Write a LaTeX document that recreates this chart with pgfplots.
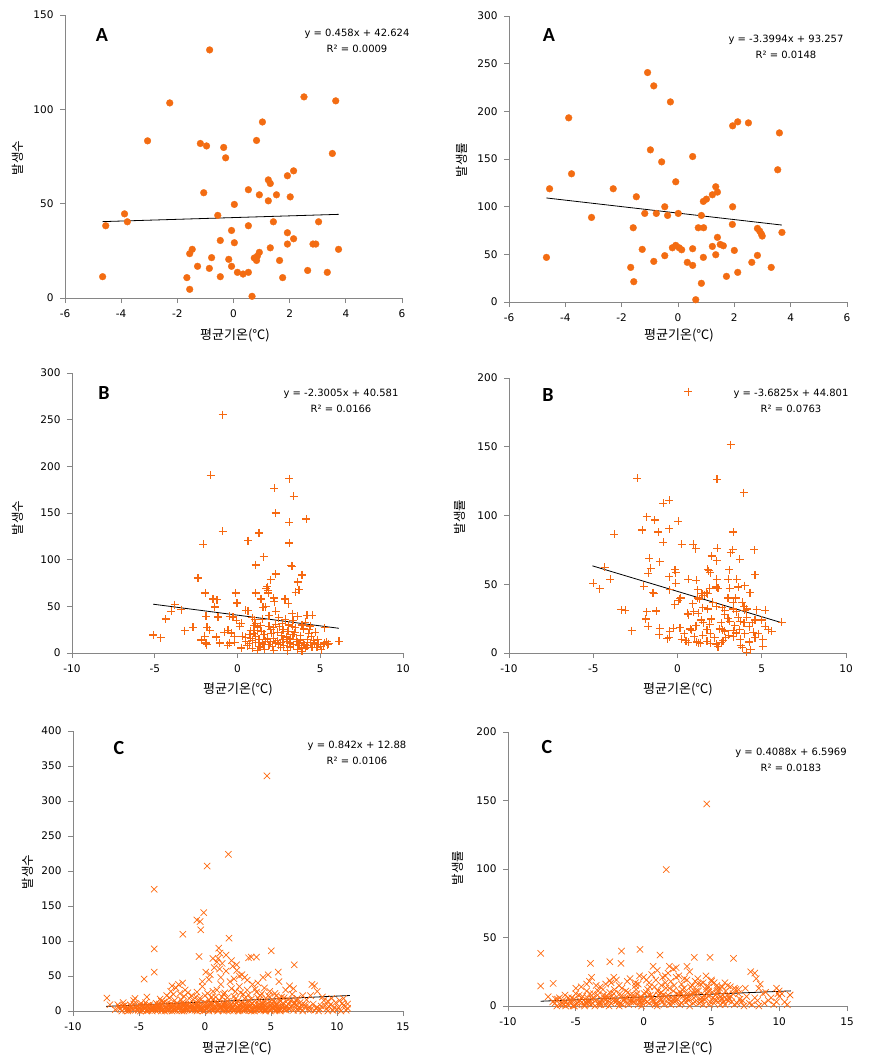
\documentclass[border=0pt]{standalone}
\usepackage{pgfplots}
\pgfplotsset{compat=1.18}
\usepackage{fontspec}
\setmainfont{DejaVu Sans}
\newfontfamily\kr{Noto Sans CJK KR}
\newfontfamily\carl{Carlito}
\definecolor{axisgray}{RGB}{134,134,134}
\definecolor{dotorange}{RGB}{243,108,18}
\definecolor{plusorange}{RGB}{246,104,16}
\definecolor{crossorange}{RGB}{255,106,16}
\pgfplotsset{
  panel/.style={
    scale only axis,
    anchor=south west,
    axis lines*=left,
    axis line style={draw=axisgray, line width=0.8pt},
    every tick/.style={draw=axisgray, line width=0.8pt},
    tick align=outside,
    major tick length=5pt,
    tick label style={font=\fontsize{10.5}{12}\selectfont, text=black},
    xticklabel style={yshift=-3pt},
    yticklabel style={xshift=-3pt},
    /pgf/number format/assume math mode=true,
    clip=false,
  },
  circ/.style={only marks, color=dotorange, mark=*, mark size=3.4pt, mark options={draw=dotorange, fill=dotorange, line width=0.3pt}},
  pluss/.style={only marks, color=plusorange, mark=+, mark size=4pt, mark options={draw=plusorange, line width=1.15pt}},
  cross/.style={only marks, color=crossorange, mark=x, mark size=4.5pt, mark options={draw=crossorange, line width=0.7pt}},
  trend/.style={no marks, black, line width=0.8pt},
}
\begin{document}
\begin{tikzpicture}
\useasboundingbox (0,0) rectangle (879pt,-1063pt);
% ---------------- Panel 1
\begin{axis}[panel, at={(65pt,-298pt)}, width=337pt, height=283pt,
  xmin=-6, xmax=6, ymin=0, ymax=150, xtick={-6,-4,...,6}, ytick={0,50,100,150}]
\addplot[circ] coordinates {(-0.85,131.5)(-2.27,103.4)(2.51,106.6)(3.64,104.5)(1.03,93.3)(-3.06,83.3)(0.82,83.5)(-1.18,81.9)(-0.96,80.6)(-0.35,79.8)(-0.28,74.3)(3.52,76.6)(2.14,67.4)(1.92,64.8)(1.24,62.6)(1.31,60.7)(-1.06,55.8)(0.53,57.4)(0.92,54.7)(1.53,54.7)(2.02,53.6)(1.24,51.5)(0.03,49.6)(-3.88,44.6)(-0.56,43.8)(-3.78,40.4)(1.42,40.4)(3.03,40.4)(-4.55,38.3)(0.53,38.3)(-0.07,35.8)(1.92,34.6)(-0.47,30.5)(0.03,29.3)(2.14,31.4)(1.92,28.6)(2.83,28.6)(2.93,28.6)(1.31,26.6)(3.74,25.8)(-1.47,25.8)(-1.56,23.5)(0.92,24.2)(0.85,22.2)(-0.78,21.4)(-0.17,20.5)(0.74,21.2)(0.82,19.9)(1.64,19.9)(-1.28,16.8)(-0.07,16.8)(-0.86,15.7)(0.14,13.6)(0.34,12.7)(0.53,13.6)(2.64,14.6)(3.34,13.6)(-4.66,11.3)(-1.66,10.8)(-0.47,11.3)(1.75,10.8)(-1.56,4.6)(0.66,0.9)};
\addplot[trend] coordinates {(-4.66,40.49)(3.74,44.34)};
\end{axis}
% ---------------- Panel 2
\begin{axis}[panel, at={(509pt,-302pt)}, width=338pt, height=286pt,
  xmin=-6, xmax=6, ymin=0, ymax=300, xtick={-6,-4,...,6}, ytick={0,50,...,300}]
\addplot[circ] coordinates {(-1.08,240.7)(-0.86,226.7)(-0.27,209.9)(-3.88,193.2)(2.12,189.0)(2.50,187.9)(1.94,184.8)(3.60,177.4)(-0.98,159.6)(0.52,152.6)(-0.58,147.0)(3.54,138.7)(-3.78,134.5)(-0.08,126.1)(-4.56,118.8)(-2.30,118.8)(1.34,120.9)(1.40,115.3)(1.22,112.5)(1.01,107.9)(0.90,105.5)(-1.48,110.4)(-0.47,99.9)(1.94,99.9)(-1.18,92.9)(-0.77,92.9)(0.01,92.9)(-0.37,90.8)(0.83,90.8)(-3.07,88.7)(-1.59,77.9)(0.72,77.9)(0.91,77.9)(1.93,81.4)(2.82,77.2)(2.90,74.4)(2.96,71.3)(2.99,69.2)(3.69,73.0)(1.40,67.8)(1.22,58.3)(1.50,60.4)(1.61,59.0)(-0.08,59.4)(-0.20,56.9)(0.04,56.9)(0.13,54.8)(-1.27,55.2)(0.52,55.9)(2.00,54.1)(-4.67,46.8)(-0.47,48.6)(0.90,46.8)(1.34,49.6)(2.82,48.9)(-0.86,42.6)(0.33,41.6)(0.52,38.4)(2.62,41.6)(-1.68,36.3)(3.31,36.3)(2.12,31.1)(1.72,26.9)(-1.57,21.3)(0.83,19.6)(0.63,2.4)};
\addplot[trend] coordinates {(-4.67,109.13)(3.69,80.71)};
\end{axis}
% ---------------- Panel 3
\begin{axis}[panel, at={(72pt,-653pt)}, width=331pt, height=280pt,
  xmin=-10, xmax=10, ymin=0, ymax=300, xtick={-10,-5,...,10}, ytick={0,50,...,300}]
\addplot[pluss] coordinates {(-0.90,255.4)(-1.62,190.4)(3.13,186.8)(2.23,176.4)(3.39,167.9)(2.31,150)(4.16,143.6)(3.13,140)(-0.90,130.4)(1.30,128.6)(0.63,120.4)(3.13,117.9)(-2.08,116.4)(1.58,103.2)(3.25,93.6)(3.30,92.8)(1.10,94.3)(3.90,83.6)(2.31,84.6)(-2.39,80.4)(2.00,78.6)(3.64,76.1)(3.72,67.9)(3.51,65)(1.75,69.5)(1.85,67)(1.80,71)(1.86,64.3)(-1.94,64.3)(-0.11,64.3)(1.10,64.3)(2.20,59)(2.22,55)(2.87,57.9)(3.07,52.9)(-1.48,57.9)(-1.24,57)(-0.03,53.6)(1.42,57.9)(-3.80,51.8)(-1.38,49.3)(-4.00,44.6)(-3.40,46.4)(1.54,49)(1.70,49.5)(0.49,45.7)(0.63,45.4)(2.31,44.6)(-1.90,39.3)(-1.18,38.6)(-0.47,39.3)(-0.27,38.6)(4.20,40.4)(4.52,40.4)(3.64,39.3)(-4.34,36.4)(-0.07,35)(1.04,35.7)(3.35,35)(0.23,32)(0.13,28.6)(-2.69,27.5)(-3.19,23.9)(-1.84,27.5)(-1.68,24.3)(-0.57,24.3)(-0.37,21.4)(1.00,29.3)(1.20,27.9)(1.40,29.3)(1.90,28.6)(2.15,27.2)(2.55,28)(2.75,25)(3.30,28.6)(3.05,23.2)(4.00,25.7)(4.35,25)(5.27,27)(-5.10,19.3)(-4.64,16.4)(-1.98,17.9)(-1.28,17.1)(-1.90,10.7)(-1.85,9)(-1.08,10.7)(-0.47,10.7)(-0.17,11.4)(0.23,5.4)(0.50,12)(0.70,10)(0.90,13.6)(1.10,11)(1.30,14.5)(1.50,10.7)(0.50,17)(0.80,16)(1.10,18)(1.70,12.5)(1.90,8.9)(2.10,7)(2.30,10.7)(2.50,8.9)(2.75,14.3)(2.95,17.1)(3.15,10.7)(3.35,19.6)(3.55,14.3)(3.75,10.7)(3.85,5.4)(4.05,8.9)(4.25,14.3)(4.45,17.9)(4.65,10.7)(4.85,14.3)(5.05,3.6)(5.25,10.7)(5.45,8.9)(6.13,12.5)(3.60,3.6)(3.90,1.8)(4.10,5.4)(1.30,7)(1.00,21)(1.45,23.2)(0.80,24)(2.05,21)(2.40,22)(2.65,19)(3.45,21.8)(3.80,18.5)(4.30,20.5)(4.70,22)(-0.80,22)(-0.20,17.5)(0.30,18)(0.60,8)(-0.60,8.5)(1.65,4)(2.20,3)(2.60,6)(3.00,2.5)(3.20,6.5)(3.70,8)(4.50,6)(4.90,9.5)(5.40,12)(-2.20,13.9)(0.9,5)(1.2,3)(1.4,6)(1.6,9)(1.8,15)(2.0,12)(2.2,16)(2.4,13)(2.6,11)(2.8,8)(3.0,12)(3.2,15)(3.4,9)(3.6,12)(3.8,14)(4.0,11)(4.2,8)(4.4,11)(4.6,13)(4.8,6)(5.0,7)(5.2,9)(5.5,10)(0.7,20)(1.2,24)(1.6,20)(2.0,25)(2.3,31)(2.7,32)(3.1,30)(3.5,27)(3.9,30)(4.1,33)(4.4,29)(1.1,32)(0.9,38)(1.5,36)(1.9,40)(2.5,38)(2.9,36)(3.3,42)};
\addplot[trend] coordinates {(-5.10,52.31)(6.13,26.48)};
\end{axis}
% ---------------- Panel 4
\begin{axis}[panel, at={(509pt,-653pt)}, width=337pt, height=275pt,
  xmin=-10, xmax=10, ymin=0, ymax=200, xtick={-10,-5,...,10}, ytick={0,50,...,200}]
\addplot[pluss] coordinates {(0.63,190.1)(3.15,151.4)(-2.38,127)(2.34,126.2)(3.94,116.6)(-0.50,111)(-0.85,108.8)(-1.84,99.2)(-1.35,96.7)(0.04,95.8)(-2.10,89.5)(-1.15,88)(-0.50,90.4)(3.31,88)(-3.76,86.3)(-0.85,80.5)(0.24,79.1)(0.93,79.1)(1.09,75.7)(2.36,76.2)(3.15,73)(3.27,75)(4.55,75)(3.70,68.2)(2.02,70.6)(2.32,67)(-1.68,69)(-1.05,66.3)(-1.60,61.7)(-4.32,62.4)(-0.15,60.5)(-0.10,58.5)(1.80,61)(1.95,58.5)(1.85,60)(3.07,60.5)(4.60,56.8)(-1.74,58)(-3.98,53.7)(0.63,53.5)(1.12,53)(2.32,53.5)(3.01,53.7)(3.51,53.5)(-0.50,55.6)(-0.10,50.8)(-5.00,50.8)(-4.61,46.7)(-2.00,48.4)(-1.45,44)(-1.40,43.5)(-0.46,46)(1.20,46)(1.45,43)(1.70,44)(1.90,47)(2.30,48)(2.40,47)(3.10,47)(3.60,48)(4.00,49)(4.30,44)(0.20,40)(0.05,38)(0.15,39.5)(1.20,40)(1.30,39)(1.60,42)(1.80,43)(3.00,40)(3.30,37)(3.45,40)(3.85,37)(3.95,34)(2.30,34)(2.65,33)(2.80,31)(-0.16,35)(-3.33,31.4)(-3.10,31)(-1.84,30)(-1.25,30.5)(0.63,28)(0.60,29)(0.97,30)(1.23,29)(1.50,33)(1.80,32)(3.31,32)(3.50,30)(4.10,32)(5.20,31)(4.70,31.5)(-1.88,24.7)(-1.74,19.3)(1.42,24)(1.52,22)(2.00,24.7)(3.00,25)(3.10,23)(3.72,23)(3.95,22)(4.45,22)(4.25,19)(5.20,19.3)(-1.05,18)(-0.45,15.7)(-0.25,18)(0.15,18.5)(0.75,17.5)(0.85,16.5)(1.75,17)(1.95,14)(2.50,17.5)(2.65,17)(2.80,16)(3.31,16.2)(3.50,14.5)(3.70,17)(4.50,15)(4.80,14)(5.40,17)(5.60,15.7)(-2.73,16.2)(-1.09,13.3)(-0.50,11.5)(-0.60,10.5)(0.25,10)(0.50,9)(1.15,8)(1.35,7)(1.25,7.5)(1.75,8.5)(1.95,7)(2.30,6.5)(2.40,4.5)(2.60,7.5)(2.85,11)(3.05,13)(3.72,10)(3.85,4)(3.75,5.5)(4.25,8)(4.35,2.5)(5.05,5)(5.05,10)(4.10,0.5)(0.63,7.7)(6.18,22.2)(1.0,12)(1.5,13)(2.2,11)(2.7,9)(3.3,12)(4.0,14)(4.6,11)(0.4,14)(1.1,20)(1.9,21)(2.6,22)(3.4,20)(4.1,26)(4.6,24)(0.9,36)(2.1,37)(2.8,28)(3.6,26)(4.0,31)(5.0,24)};
\addplot[trend] coordinates {(-5.05,63.40)(6.22,21.90)};
\end{axis}
% ---------------- Panel 5
\begin{axis}[panel, at={(73pt,-1011pt)}, width=330pt, height=280pt,
  xmin=-10, xmax=15, ymin=0, ymax=400, xtick={-10,-5,...,15}, ytick={0,50,...,400}]
\addplot[cross] coordinates {(4.69,335.9)(1.77,223.8)(0.16,207.1)(-3.85,173.9)(-0.10,140.6)(-0.62,130)(-0.37,127.8)(-0.32,116)(-1.68,109.7)(1.82,104)(-3.85,88.8)(5.02,86)(1.04,89.8)(1.14,82.7)(3.5,77)(3.3,76)(3.9,77)(-0.45,77.9)(6.76,66)(0.6,75)(0.9,70)(2.0,72)(2.4,66)(1.1,60)(1.6,57)(-3.85,55.6)(0.06,55.6)(5.55,55.6)(-4.61,45.6)(4.79,51.8)(2.6,50)(2.2,46)(3.0,48)(-0.2,42)(0.3,45)(-2.0,38)(-2.5,36)(-1.7,40)(8.1,38)(8.3,36)(6.4,36)(6.7,32)(-7.43,18.5)(-7.2,9)(-5.4,15)(-6.2,12)
(-6.8,2)(-6.5,5)(-6.3,0)(-6.1,8)(-5.9,3)(-5.7,1)(-5.6,6)(-5.4,10)(-5.2,2)(-5.0,4)(-4.9,0)(-4.8,7)(-4.6,3)(-4.5,12)(-4.4,1)(-4.3,5)(-4.2,9)(-4.1,2)(-4.0,0)(-3.9,6)(-3.8,3)(-3.7,11)(-3.6,1)(-3.5,4)(-3.4,8)(-3.3,0)(-3.2,2)(-3.1,13)(-3.0,5)(-2.9,1)(-2.8,7)(-2.7,3)(-2.6,10)(-2.5,0)(-2.4,4)(-2.3,15)(-2.2,2)(-2.1,6)(-2.0,9)(-1.9,1)(-1.8,3)(-1.7,12)(-1.6,0)(-1.5,5)(-1.4,8)(-1.3,2)(-1.2,18)(-1.1,4)(-1.0,1)(-0.9,7)(-0.8,10)(-0.7,3)(-0.6,0)(-0.5,14)(-0.4,6)(-0.3,2)(-0.2,9)(-0.1,4)(0.0,1)(0.1,11)(0.2,5)(0.3,0)(0.4,8)(0.5,3)(0.6,16)(0.7,2)(0.8,6)(0.9,12)(1.0,1)(1.1,9)(1.2,4)(1.3,20)(1.4,0)(1.5,7)(1.6,3)(1.7,14)(1.8,5)(1.9,1)(2.0,10)(2.1,6)(2.2,2)(2.3,17)(2.4,4)(2.5,0)(2.6,8)(2.7,3)(2.8,12)(2.9,5)(3.0,1)(3.1,9)(3.2,2)(3.3,15)(3.4,6)(3.5,0)(3.6,11)(3.7,4)(3.8,7)(3.9,2)(4.0,19)(4.1,5)(4.2,1)(4.3,10)(4.4,3)(4.5,13)(4.6,0)(4.7,6)(4.8,22)(4.9,2)(5.0,8)(5.1,4)(5.2,14)(5.3,1)(5.4,9)(5.5,3)(5.6,18)(5.7,0)(5.8,6)(5.9,11)(6.0,2)(6.2,7)(6.4,4)(6.5,15)(6.7,1)(6.9,9)(7.0,3)(7.2,12)(7.4,0)(7.6,6)(8.0,2)(8.2,10)(8.4,4)(8.6,0)(8.8,7)(9.0,15)(9.2,3)(9.5,9)(9.7,1)(9.9,12)(10.1,5)(10.3,0)(10.5,8)(10.8,4)
(-6.6,9)(-6.0,1)(-5.5,3)(-5.1,7)(-4.7,1)(-4.25,4)(-3.95,2)(-3.55,7)(-3.15,3)(-2.75,1)(-2.35,8)(-1.95,5)(-1.55,2)(-1.15,6)(-0.75,1)(-0.35,3)(0.05,7)(0.45,2)(0.85,4)(1.25,8)(1.65,1)(2.05,3)(2.45,6)(2.85,1)(3.25,4)(3.65,2)(4.05,8)(4.45,1)(4.85,5)(5.25,3)(5.65,1)(6.1,5)(6.6,8)(7.1,5)(7.8,2)(8.5,5)(9.4,6)(10.0,2)
(-5.8,4)(-4.95,9)(-4.05,5)(-3.45,10)(-2.65,6)(-2.15,11)(-1.65,7)(-1.25,10)(-0.85,5)(-0.45,8)(-0.05,12)(0.35,9)(0.75,13)(1.15,6)(1.55,11)(1.95,8)(2.35,12)(2.75,9)(3.15,6)(3.55,10)(3.95,13)(4.35,7)(4.75,11)(5.15,9)(5.55,6)(6.3,10)(6.8,12)(7.3,8)
(-5.3,18)(-4.4,20)(-3.4,17)(-2.9,22)(-2.6,28)(-2.2,33)(-1.9,25)(-1.5,30)(-1.0,22)(-0.6,27)(-0.2,35)(0.2,25)(0.5,20)(0.9,30)(1.2,38)(1.5,26)(1.9,42)(2.3,28)(2.6,35)(2.9,24)(3.2,30)(3.6,38)(3.9,27)(4.2,22)(4.5,33)(4.9,28)(5.3,25)(5.8,20)(6.1,30)(6.6,24)(7.0,18)(7.4,22)(8.5,28)(8.9,20)(9.6,18)(10.2,15)(10.8,10)
(0.7,62)(1.0,75)(1.3,68)(1.6,80)(2.1,64)(2.4,58)(2.8,52)(1.2,48)(0.4,52)(3.2,44)(4.0,40)(4.4,48)(5.6,42)
(-6.45,3)(-6.25,7)(-6.05,4)(-5.85,0)(-5.65,9)(-5.45,2)(-5.25,5)(-5.05,1)(-4.85,11)(-4.65,6)(-4.45,0)(-4.35,8)(-4.15,3)(-3.85,7)(-3.75,1)(-3.65,5)(-3.35,3)(-3.25,9)(-3.05,0)(-2.95,6)(-2.85,11)(-2.55,4)(-2.45,9)(-2.25,1)(-2.05,3)(-1.85,7)(-1.75,0)(-1.45,10)(-1.35,4)(-1.05,9)(-0.95,2)(-0.65,6)(-0.55,11)(-0.25,5)(-0.15,0)(0.15,3)(0.25,8)(0.55,10)(0.65,5)(0.95,0)(1.05,4)(1.35,3)(1.45,11)(1.75,9)(1.85,2)(2.15,0)(2.25,9)(2.55,4)(2.65,1)(2.95,10)(3.05,3)(3.35,1)(3.45,9)(3.75,0)(3.85,5)(4.15,9)(4.25,2)(4.55,8)(4.65,3)(4.95,0)(5.05,11)(5.35,6)(5.45,1)(5.75,3)(5.85,8)(6.15,1)(6.35,3)(6.55,6)(6.75,10)(7.05,1)(7.25,4)(7.55,9)(7.9,6)(8.3,1)(8.7,3)(9.1,8)(9.3,0)(9.8,5)(10.4,11)(10.7,1)
(-3.3,14)(-2.7,19)(-2.4,24)(-1.8,16)(-1.6,21)(-1.3,26)(-0.9,16)(-0.7,20)(-0.4,18)(0.0,22)(0.3,16)(0.6,28)(0.8,20)(1.1,15)(1.4,24)(1.7,19)(2.0,32)(2.2,21)(2.5,15)(2.7,26)(3.0,18)(3.3,23)(3.5,17)(3.8,31)(4.1,16)(4.3,25)(4.6,18)(4.9,20)(5.1,16)(5.4,22)(5.7,14)(6.0,19)(6.3,16)(6.9,15)(7.7,16)(8.0,22)(9.3,14)(10.5,18)
(-4.8,2)(-4.3,1)(-3.9,4)(-3.4,2)(-2.9,4)(-2.4,1)(-1.9,5)(-1.4,2)(-0.9,4)(-0.4,1)(0.1,3)(0.6,1)(1.1,5)(1.6,2)(2.1,4)(2.6,2)(3.1,5)(3.6,1)(4.1,3)(4.6,2)(5.1,5)(5.6,2)(-4.6,8)(-3.6,9)(-2.6,7)(-1.6,9)(-0.6,7)(0.4,11)(1.4,9)(2.4,11)(3.4,8)(4.4,10)(5.4,11)};
\addplot[trend] coordinates {(-7.48,6.58)(10.97,22.12)};
\end{axis}
% ---------------- Panel 6
\begin{axis}[panel, at={(508pt,-1006pt)}, width=339pt, height=274pt,
  xmin=-10, xmax=15, ymin=0, ymax=200, xtick={-10,-5,...,15}, ytick={0,50,...,200}]
\addplot[cross] coordinates {(4.66,147.5)(1.67,99.6)(-7.59,38.4)(-0.27,41.3)(-1.63,40.1)(-1.67,31.1)(1.21,37.2)(3.74,35.5)(4.90,35.5)(6.63,34.8)(-3.92,31.1)(-2.49,32.3)(0.7,29)(1.9,29)(2.4,28)(3.2,29)(7.9,25)(8.2,24)(-7.59,14.6)(-6.67,16.5)(-2.2,21)(-2.5,18.5)(-3.84,20.9)(-0.3,22)(8.6,16)(8.5,13)(9.8,13)(10,11)(10.8,8)(-7.04,6.8)
(-6.7,3)(-6.4,0)(-6.2,6)(-6.0,2)(-5.8,8)(-5.6,1)(-5.4,4)(-5.2,0)(-5.0,9)(-4.8,3)(-4.6,6)(-4.4,1)(-4.2,11)(-4.0,2)(-3.8,5)(-3.6,0)(-3.4,8)(-3.2,3)(-3.0,12)(-2.8,1)(-2.6,6)(-2.4,2)(-2.2,9)(-2.0,4)(-1.8,0)(-1.6,13)(-1.4,5)(-1.2,2)(-1.0,8)(-0.8,3)(-0.6,15)(-0.4,1)(-0.2,7)(0.0,4)(0.2,10)(0.4,2)(0.6,6)(0.8,14)(1.0,0)(1.2,9)(1.4,3)(1.6,17)(1.8,5)(2.0,1)(2.2,11)(2.4,4)(2.6,8)(2.8,2)(3.0,13)(3.2,6)(3.4,0)(3.6,10)(3.8,3)(4.0,16)(4.2,5)(4.4,1)(4.6,12)(4.8,7)(5.0,18)(5.2,2)(5.4,9)(5.6,4)(5.8,14)(6.0,1)(6.2,8)(6.5,3)(6.8,12)(7.1,5)(7.4,0)(7.8,2)(8.2,6)(8.5,0)(8.8,9)(9.2,4)(9.6,1)(10.0,7)(10.4,3)(10.8,8)
(-6.5,5)(-5.9,1)(-5.3,6)(-4.9,2)(-4.5,7)(-4.1,4)(-3.7,9)(-3.3,1)(-2.9,6)(-2.5,10)(-2.1,3)(-1.7,7)(-1.3,11)(-0.9,5)(-0.5,9)(-0.1,2)(0.3,12)(0.7,4)(1.1,8)(1.5,1)(1.9,13)(2.3,6)(2.7,10)(3.1,3)(3.5,8)(3.9,11)(4.3,4)(4.7,9)(5.1,6)(5.5,11)(5.9,3)(6.3,6)(6.9,2)(7.3,4)
(-5.7,3)(-5.1,0)(-4.3,3)(-3.9,1)(-3.1,5)(-2.7,3)(-2.3,5)(-1.9,2)(-1.5,4)(-1.1,1)(-0.7,6)(-0.3,3)(0.1,5)(0.5,8)(0.9,2)(1.3,5)(1.7,7)(2.1,3)(2.5,5)(2.9,7)(3.3,4)(3.7,6)(4.1,2)(4.5,5)(4.9,3)(5.3,4)(5.7,7)(6.1,5)(6.6,9)
(-4.6,14)(-4.0,18)(-3.5,15)(-2.8,16)(-2.0,19)(-1.0,20)(-0.6,17)(0.2,19)(0.6,23)(1.0,26)(1.4,21)(1.8,24)(2.2,27)(2.6,22)(3.0,20)(3.4,25)(3.8,18)(4.2,16)(4.6,22)(5.0,19)(5.4,15)(6.0,17)(6.4,14)(7.0,12)(8.3,20)(9.0,10)(9.9,9)
(-6.55,2)(-6.35,5)(-6.15,1)(-5.95,4)(-5.75,0)(-5.55,6)(-5.35,2)(-5.15,5)(-4.95,1)(-4.75,8)(-4.55,3)(-4.35,0)(-4.15,6)(-3.95,9)(-3.75,2)(-3.55,4)(-3.35,11)(-3.15,1)(-2.95,8)(-2.75,5)(-2.55,0)(-2.35,7)(-2.15,12)(-1.95,4)(-1.75,9)(-1.55,1)(-1.35,6)(-1.15,10)(-0.95,3)(-0.75,8)(-0.55,12)(-0.35,5)(-0.15,0)(0.05,9)(0.25,3)(0.45,14)(0.65,7)(0.85,1)(1.05,11)(1.25,4)(1.45,8)(1.65,13)(1.85,2)(2.05,6)(2.25,15)(2.45,9)(2.65,1)(2.85,12)(3.05,5)(3.25,9)(3.45,14)(3.65,2)(3.85,7)(4.05,11)(4.25,3)(4.45,8)(4.65,14)(4.85,1)(5.05,10)(5.25,5)(5.45,13)(5.65,1)(5.85,8)(6.05,11)(6.25,4)(6.45,7)(6.7,1)(7.0,9)(7.2,3)(7.6,7)(8.0,1)(8.4,4)(8.9,2)(9.4,6)(9.8,3)(10.2,9)(10.6,1)
(-5.0,13)(-4.2,16)(-3.2,14)(-2.4,17)(-1.8,15)(-1.2,18)(-0.4,16)(0.0,21)(0.4,17)(0.9,19)(1.3,15)(1.6,22)(2.0,18)(2.4,21)(2.8,16)(3.2,19)(3.6,15)(4.0,20)(4.4,17)(4.8,14)(5.2,17)(5.6,13)(6.2,15)(6.7,13)(7.5,13)
(-4.7,4)(-4.2,2)(-3.7,6)(-3.2,2)(-2.7,7)(-2.2,4)(-1.7,2)(-1.2,6)(-0.7,3)(-0.2,5)(0.3,7)(0.8,3)(1.3,10)(1.8,8)(2.3,3)(2.8,9)(3.3,7)(3.8,10)(4.3,6)(4.8,11)(5.3,8)(5.8,5)};
\addplot[trend] coordinates {(-7.59,3.49)(10.86,11.04)};
\end{axis}
% ---------------- texts
\tikzset{eq/.style={align=center, font=\fontsize{10}{16}\selectfont},
  letter/.style={font=\carl\bfseries\fontsize{20}{24}\selectfont},
  xl/.style={font=\kr\fontsize{13}{15}\selectfont},
  yl/.style={font=\kr\fontsize{12.5}{14}\selectfont, rotate=90}}
\node[letter] at (102pt,-35pt) {A};
\node[letter] at (549pt,-35pt) {A};
\node[letter] at (104pt,-393pt) {B};
\node[letter] at (548pt,-395pt) {B};
\node[letter] at (119pt,-748pt) {C};
\node[letter] at (547pt,-747pt) {C};
\node[eq] at (357pt,-41pt) {y = 0.458x + 42.624\\R² = 0.0009};
\node[eq] at (786pt,-47pt) {y = -3.3994x + 93.257\\R² = 0.0148};
\node[eq] at (341pt,-401pt) {y = -2.3005x + 40.581\\R² = 0.0166};
\node[eq] at (791pt,-401pt) {y = -3.6825x + 44.801\\R² = 0.0763};
\node[eq] at (357pt,-753pt) {y = 0.842x + 12.88\\R² = 0.0106};
\node[eq] at (791pt,-760pt) {y = 0.4088x + 6.5969\\R² = 0.0183};
\node[xl] at (235pt,-335pt) {평균기온(℃)};
\node[xl] at (679pt,-335pt) {평균기온(℃)};
\node[xl] at (238pt,-689pt) {평균기온(℃)};
\node[xl] at (678pt,-689pt) {평균기온(℃)};
\node[xl] at (237pt,-1048pt) {평균기온(℃)};
\node[xl] at (678pt,-1048pt) {평균기온(℃)};
\node[yl] at (18pt,-158pt) {발생수};
\node[yl] at (462pt,-160pt) {발생률};
\node[yl] at (18pt,-518pt) {발생수};
\node[yl] at (460pt,-517pt) {발생률};
\node[yl] at (28pt,-872pt) {발생수};
\node[yl] at (458pt,-868pt) {발생률};
\end{tikzpicture}
\end{document}
